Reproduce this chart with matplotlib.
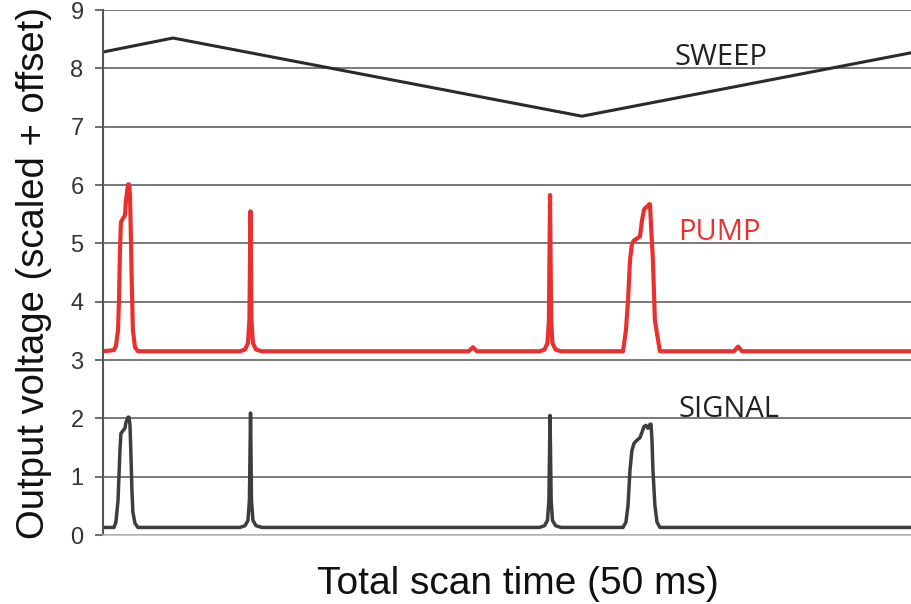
import matplotlib
matplotlib.use("Agg")
import matplotlib.pyplot as plt

# time axis in ms (50 ms full scan), traces already offset for display
sweep_t = [0.0, 1.98, 4.33, 29.60, 50.0]
sweep_v = [8.28, 8.39, 8.52, 7.18, 8.27]

pump_t = [0.0, 0.68, 0.80, 0.93, 0.99, 1.05, 1.11, 1.24, 1.36, 1.42, 1.55, 1.61,
          1.67, 1.73, 1.79, 1.85, 1.98, 2.16,
          8.47, 8.78, 8.96, 9.05, 9.12, 9.18, 9.27, 9.46, 9.83,
          22.6, 22.87, 23.1,
          26.98, 27.29, 27.47, 27.56, 27.63, 27.70, 27.78, 27.97, 28.3,
          32.14, 32.32, 32.45, 32.57, 32.69, 32.82, 32.94, 33.19, 33.31, 33.44,
          33.56, 33.68, 33.74, 33.81, 33.87, 33.99, 34.11, 34.42,
          39.0, 39.25, 39.5, 50.0]
pump_v = [3.15, 3.17, 3.24, 3.51, 4.02, 4.87, 5.36, 5.43, 5.48, 5.74, 6.01, 6.01,
          5.83, 5.05, 4.20, 3.51, 3.22, 3.15,
          3.15, 3.18, 3.29, 3.68, 5.55, 3.68, 3.29, 3.18, 3.15,
          3.15, 3.22, 3.15,
          3.15, 3.18, 3.29, 3.68, 5.83, 3.68, 3.29, 3.18, 3.15,
          3.15, 3.51, 4.02, 4.70, 4.99, 5.05, 5.07, 5.12, 5.39, 5.58,
          5.62, 5.63, 5.67, 5.67, 5.31, 4.70, 3.68, 3.15,
          3.15, 3.23, 3.15, 3.15]

signal_t = [0.0, 0.68, 0.80, 0.93, 0.99, 1.05, 1.11, 1.24, 1.36, 1.42, 1.55, 1.61,
            1.67, 1.73, 1.79, 1.85, 1.98, 2.16,
            8.47, 8.78, 8.96, 9.05, 9.12, 9.18, 9.27, 9.46, 9.83,
            26.98, 27.29, 27.47, 27.56, 27.63, 27.70, 27.78, 27.97, 28.3,
            32.14, 32.32, 32.45, 32.57, 32.69, 32.82, 32.94, 33.19, 33.31, 33.44,
            33.56, 33.68, 33.81, 33.87, 33.93, 33.99, 34.11, 34.24, 34.42, 50.0]
signal_v = [0.13, 0.13, 0.22, 0.59, 1.02, 1.45, 1.74, 1.79, 1.83, 1.93, 2.02, 2.02,
            1.88, 1.37, 0.77, 0.39, 0.20, 0.13,
            0.13, 0.16, 0.25, 0.59, 2.09, 0.59, 0.25, 0.16, 0.13,
            0.13, 0.16, 0.25, 0.59, 2.05, 0.59, 0.25, 0.16, 0.13,
            0.13, 0.22, 0.51, 1.11, 1.45, 1.57, 1.61, 1.67, 1.76, 1.86,
            1.88, 1.83, 1.90, 1.90, 1.63, 1.11, 0.51, 0.22, 0.13, 0.13]

trace_labels = ["SWEEP", "PUMP", "SIGNAL"]
label_pos = [(35.35, 8.06), (35.54, 5.05), (35.54, 2.02)]
label_colors = ["#222222", "#e8312f", "#222222"]

plt.rcParams["font.family"] = ["Liberation Sans", "DejaVu Sans"]

fig = plt.figure(figsize=(9.12, 6.04), dpi=100)
ax = fig.add_axes([0.1129, 0.1142, 0.8871, 0.8692])

ax.plot(sweep_t, sweep_v, color="#2a2a2a", lw=2.2, solid_joinstyle="round")
ax.plot(pump_t, pump_v, color="#e8312f", lw=3.0, solid_joinstyle="round")
ax.plot(signal_t, signal_v, color="#3d3d3d", lw=2.5, solid_joinstyle="round")

for text, (tx, ty), c in zip(trace_labels, label_pos, label_colors):
    ax.text(tx, ty, text, color=c, fontsize=21, family=["Open Sans", "DejaVu Sans"],
            ha="left", va="baseline")

ax.set_xlim(0, 50)
ax.set_ylim(0, 9)
ax.set_yticks(range(10))
ax.set_xticks([])
ax.yaxis.grid(True, color="#555555", lw=1.1)
ax.set_axisbelow(True)

for side in ["top", "right"]:
    ax.spines[side].set_visible(False)
ax.spines["bottom"].set_color("#bbbbbb")
ax.spines["bottom"].set_linewidth(1.2)
ax.spines["left"].set_color("#555555")
ax.spines["left"].set_linewidth(1.5)
ax.tick_params(axis="y", direction="out", length=6, width=1.2, color="#555555",
               labelsize=17, labelcolor="#333333", pad=8)

ax.set_ylabel("Output voltage (scaled + offset)", fontsize=27.5, color="#111111", labelpad=13)
ax.set_xlabel("Total scan time (50 ms)", fontsize=28, color="#111111", labelpad=22)
ax.xaxis.label.set_x(0.513)

fig.savefig("out.png", dpi=100)
